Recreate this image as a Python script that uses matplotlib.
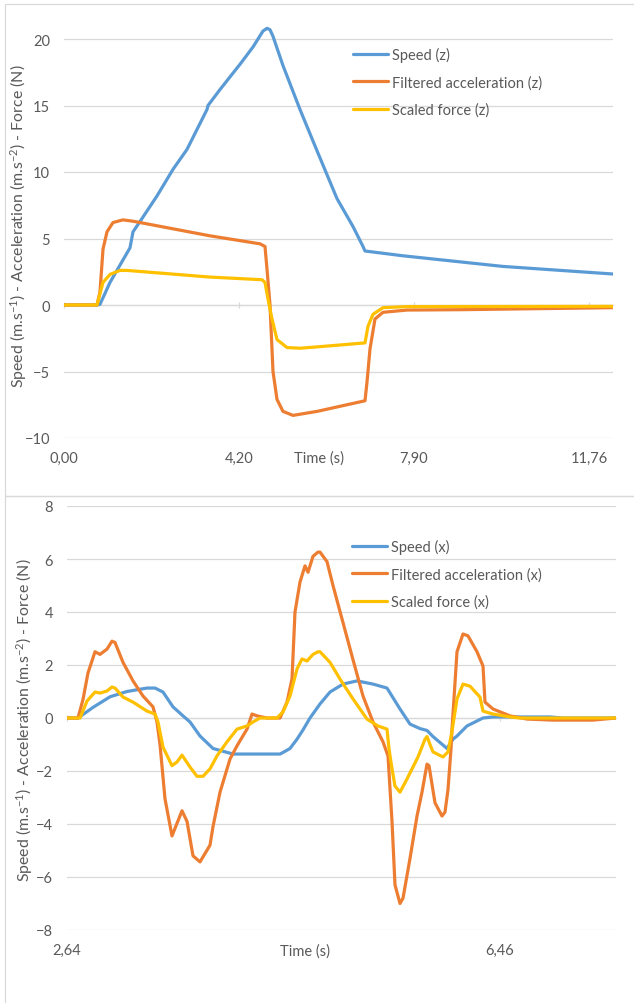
import matplotlib
matplotlib.use('Agg')
import matplotlib.pyplot as plt
from matplotlib.patches import Rectangle

matplotlib.rcParams['font.family'] = ['Lato', 'DejaVu Sans']
matplotlib.rcParams['font.size'] = 10.5
matplotlib.rcParams['mathtext.default'] = 'regular'
matplotlib.rcParams['text.color'] = '#595959'
matplotlib.rcParams['xtick.color'] = '#595959'
matplotlib.rcParams['ytick.color'] = '#595959'

# colours (Excel defaults)
BLUE = '#5B9BD5'
ORANGE = '#ED7D31'
YELLOW = '#FFC000'
GRID = '#D9D9D9'

# ---------------- top chart (z axis) ----------------
# x is the sample index of the category axis
top_tick_idx = [0, 175, 350, 525]
top_tick_lbl = ['0,00', '4,20', '7,90', '11,76']

speed_z_idx = [0, 33, 36, 46, 66, 69, 78, 93, 109, 123, 139, 143, 144, 156, 176,
               189, 199, 203, 206, 209, 219, 236, 253, 273, 289, 299, 301,
               339, 439, 549]
speed_z = [0, 0, 0.05, 1.7, 4.3, 5.5, 6.5, 8.2, 10.2, 11.7, 14.1, 14.7, 15.0, 16.2,
           18.1, 19.4, 20.6, 20.8, 20.7, 20.2, 18.0, 14.7, 11.6, 8.0, 5.9,
           4.4, 4.06, 3.7, 2.9, 2.33]

acc_z_idx = [0, 33, 36, 39, 43, 49, 59, 69, 146, 196, 201, 203, 206, 209, 213,
             219, 229, 253, 301, 303, 306, 311, 319, 343, 399, 549]
acc_z = [0, 0, 1.0, 4.2, 5.5, 6.2, 6.4, 6.3, 5.2, 4.6, 4.4, 2.7, 0, -5.0, -7.1,
         -8.0, -8.3, -8.0, -7.2, -5.8, -3.3, -1.05, -0.55, -0.38, -0.35, -0.2]

force_z_idx = [0, 33, 39, 46, 56, 63, 146, 198, 201, 204, 208, 213, 223, 236,
               253, 301, 304, 309, 319, 343, 549]
force_z = [0, 0, 1.7, 2.3, 2.6, 2.6, 2.1, 1.9, 1.7, 0.45, -1.05, -2.6, -3.2, -3.25,
           -3.15, -2.85, -1.6, -0.7, -0.2, -0.12, -0.1]

# ---------------- bottom chart (x axis) ----------------
bot_tick_idx = [0, 433]
bot_tick_lbl = ['2,64', '6,46']

speed_x_idx = [0, 11, 26, 43, 60, 80, 88, 96, 106, 116, 123, 133, 146, 166, 213,
               216, 223, 230, 236, 243, 253, 263, 276, 290, 306, 320, 333, 343,
               353, 360, 366, 380, 386, 390, 400, 416, 426, 483, 496, 549]
speed_x = [0, 0, 0.4, 0.8, 1.0, 1.13, 1.13, 0.98, 0.42, 0.08, -0.15, -0.68, -1.15,
           -1.36, -1.36, -1.3, -1.15, -0.8, -0.45, 0, 0.53, 0.98, 1.28, 1.4, 1.28,
           1.13, 0.34, -0.23, -0.4, -0.47, -0.7, -1.15, -0.8, -0.68, -0.3, 0,
           0.04, 0.04, 0, 0]

acc_x_idx = [0, 11, 16, 21, 28, 33, 40, 45, 48, 56, 66, 76, 86, 90, 93, 98, 105,
             115, 120, 126, 133, 143, 146, 153, 163, 170, 180, 185, 190, 200, 213,
             220, 225, 228, 233, 238, 241, 246, 251, 253, 260, 266, 276, 286, 296,
             306, 316, 321, 325, 328, 333, 336, 343, 350, 355, 360, 362, 368, 375,
             378, 381, 384, 385, 390, 396, 401, 410, 416, 418, 426, 443, 460, 486,
             526, 549]
acc_x = [0, 0, 0.7, 1.7, 2.5, 2.4, 2.6, 2.9, 2.85, 2.1, 1.4, 0.83, 0.42, -0.15,
         -1.0, -3.05, -4.45, -3.5, -3.9, -5.2, -5.43, -4.8, -4.1, -2.8, -1.55,
         -1.05, -0.42, 0.15, 0.08, 0, 0, 0.6, 1.47, 4.0, 5.13, 5.74, 5.5, 6.1,
         6.26, 6.26, 5.9, 5.0, 3.6, 2.2, 0.83, -0.15, -0.9, -1.43, -3.9, -6.3,
         -7.0, -6.8, -5.3, -3.7, -2.8, -1.74, -1.8, -3.2, -3.7, -3.55, -2.7,
         -1.17, -0.42, 2.5, 3.17, 3.1, 2.5, 1.96, 0.6, 0.34, 0.08, -0.04, -0.08,
         -0.08, 0]

force_x_idx = [0, 13, 20, 28, 33, 40, 45, 48, 56, 66, 80, 88, 91, 96, 105, 110,
               115, 123, 130, 136, 143, 150, 160, 170, 180, 186, 193, 210, 216,
               223, 230, 235, 240, 246, 251, 253, 263, 273, 286, 300, 311, 320,
               322, 325, 328, 333, 340, 351, 358, 360, 363, 366, 376, 381, 385,
               390, 396, 403, 413, 416, 426, 443, 453, 549]
force_x = [0, 0, 0.64, 0.98, 0.94, 1.02, 1.17, 1.13, 0.79, 0.6, 0.26, 0.15, -0.15,
           -1.1, -1.8, -1.66, -1.4, -1.85, -2.2, -2.2, -1.92, -1.43, -0.9, -0.42,
           -0.3, -0.15, 0, 0, 0.23, 0.83, 1.85, 2.23, 2.15, 2.4, 2.5, 2.5, 2.1,
           1.47, 0.72, -0.04, -0.3, -0.42, -1.17, -1.92, -2.57, -2.8, -2.3, -1.47,
           -0.8, -0.7, -1.0, -1.28, -1.47, -1.28, -0.5, 0.72, 1.28, 1.2, 0.79,
           0.26, 0.15, 0.04, 0, 0]

YLABEL = 'Speed (m.s$^{-1}$) - Acceleration (m.s$^{-2}$) - Force (N)'

W, H = 634., 1004.


def px(x, y):
    '''pixel position (from top left) to figure fraction'''
    return x / W, 1 - y / H


def drawChart(fig, rect, series, ylim, yticks, xticks, xlabels, xmax):
    ax = fig.add_axes(rect)
    for idx, vals, col, lbl in series:
        ax.plot(idx, vals, color=col, lw=2.3, label=lbl,
                solid_joinstyle='round', solid_capstyle='round')
    ax.set_xlim(0, xmax)
    ax.set_ylim(*ylim)
    ax.set_yticks(yticks)
    ax.set_xticks(xticks)
    ax.set_xticklabels(xlabels)
    ax.grid(axis='y', color=GRID, lw=0.9)
    ax.set_axisbelow(True)
    for s in ax.spines.values():
        s.set_visible(False)
    ax.tick_params(axis='x', length=0, pad=9)
    ax.tick_params(axis='y', length=0, pad=10)

    #small tick marks on the horizontal axis at y = 0
    frac = (0 - ylim[0]) / float(ylim[1] - ylim[0])
    sec = ax.secondary_xaxis(frac)
    sec.set_xticks(xticks)
    sec.tick_params(direction='inout', length=5, color=GRID, width=0.9,
                    labelbottom=False, labeltop=False)
    for s in sec.spines.values():
        s.set_color(GRID)
        s.set_linewidth(0.9)

    ax.legend(loc='upper left', frameon=False, handlelength=2.4,
              handletextpad=0.25, labelspacing=0.9, borderpad=0,
              borderaxespad=0, bbox_transform=fig.transFigure)
    return ax


fig = plt.figure(figsize=(W / 100, H / 100), dpi=100)

#chart borders
x0, y0 = px(5, 497)
fig.add_artist(Rectangle((x0, y0), 1.2, 1 - 5 / H - y0, transform=fig.transFigure,
                         fill=False, ec=GRID, lw=0.9))
fig.add_artist(Rectangle((x0, -0.1), 1.2, y0 + 0.1, transform=fig.transFigure,
                         fill=False, ec=GRID, lw=0.9))

#top chart
l, b = px(64, 439)
r, t = px(613, 13.4)
axTop = drawChart(fig, [l, b, r - l, t - b],
                  [(speed_z_idx, speed_z, BLUE, 'Speed (z)'),
                   (acc_z_idx, acc_z, ORANGE, 'Filtered acceleration (z)'),
                   (force_z_idx, force_z, YELLOW, 'Scaled force (z)')],
                  (-10, 22), range(-10, 21, 5), top_tick_idx, top_tick_lbl, 549)
axTop.get_legend().set_bbox_to_anchor(px(353, 48), transform=fig.transFigure)

#bottom chart
l, b = px(67, 931)
r, t = px(616, 507)
axBot = drawChart(fig, [l, b, r - l, t - b],
                  [(speed_x_idx, speed_x, BLUE, 'Speed (x)'),
                   (acc_x_idx, acc_x, ORANGE, 'Filtered acceleration (x)'),
                   (force_x_idx, force_x, YELLOW, 'Scaled force (x)')],
                  (-8, 8), range(-8, 9, 2), bot_tick_idx, bot_tick_lbl, 549)
axBot.get_legend().set_bbox_to_anchor(px(352, 540), transform=fig.transFigure)

#axis titles
fig.text(*px(19, 226), YLABEL, rotation=90, ha='center', va='center', fontsize=11.4)
fig.text(*px(25, 720), YLABEL, rotation=90, ha='center', va='center', fontsize=11.4)
fig.text(*px(319, 459), 'Time (s)', ha='center', va='center')
fig.text(*px(305, 952), 'Time (s)', ha='center', va='center')

plt.savefig('out.png', dpi=100)
